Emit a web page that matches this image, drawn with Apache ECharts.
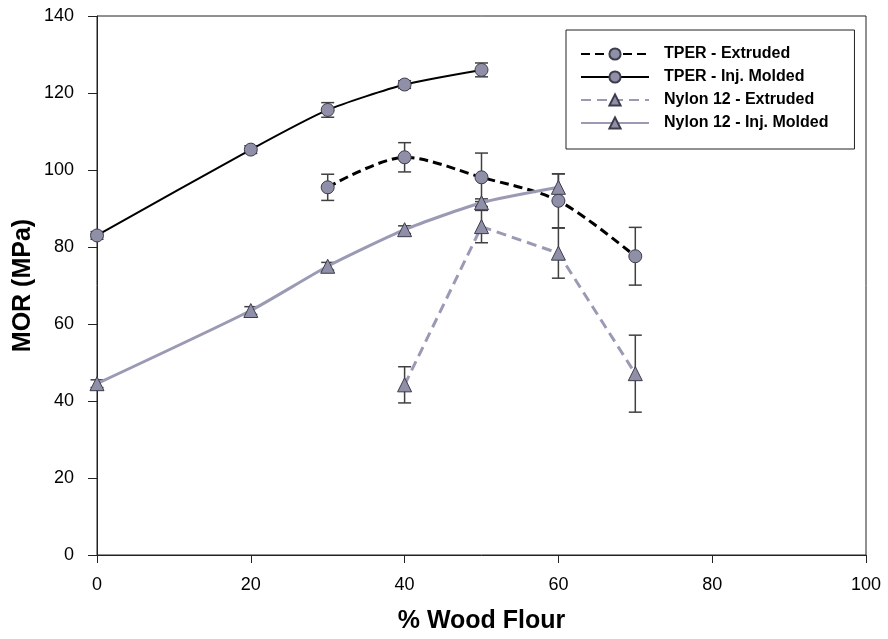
<!DOCTYPE html>
<html>
<head>
<meta charset="utf-8">
<script src="https://cdn.jsdelivr.net/npm/echarts@6/dist/echarts.min.js"></script>
<style>
  html, body { margin: 0; padding: 0; background: #fff; }
  #chart { width: 888px; height: 639px; }
</style>
</head>
<body>
<div id="chart"></div>
<script>
// values
const tperExtX = [30, 40, 50, 60, 70]
const tperExtY = [95.5, 103.3, 98.1, 92, 77.6]
const tperExtErr = [3.4, 3.8, 6.3, 7, 7.5]

const tperInjX = [0, 20, 30, 40, 50]
const tperInjY = [83, 105.3, 115.6, 122.2, 126]
const tperInjErr = [1, 1, 1.9, 1, 1.8]

const nylonExtX = [40, 50, 60, 70]
const nylonExtY = [44.2, 85.3, 78.4, 47.1]
const nylonExtErr = [4.7, 4.2, 6.5, 10]

const nylonInjX = [0, 20, 30, 40, 50, 60]
const nylonInjY = [44.5, 63.5, 75, 84.5, 91.5, 95.5]
const nylonInjErr = [1, 1, 1, 1, 1, 3.5]

const markFill = '#8f90a8'
const markLine = '#3c3c4c'
const nylonColor = '#9a9ab4'

function pts(xs, ys) {
  return xs.map((x, i) => [x, ys[i]])
}
function bars(xs, ys, es) {
  return xs.map((x, i) => [x, ys[i] - es[i], ys[i] + es[i]])
}

function errorSeries(data) {
  return {
    type: 'custom',
    z: 2,
    silent: true,
    data: data,
    renderItem(params, api) {
      const lo = api.coord([api.value(0), api.value(1)])
      const hi = api.coord([api.value(0), api.value(2)])
      const w = 6.5
      const style = { stroke: '#404040', lineWidth: 1.5 }
      return {
        type: 'group',
        children: [
          { type: 'line', shape: { x1: lo[0], y1: lo[1], x2: hi[0], y2: hi[1] }, style },
          { type: 'line', shape: { x1: lo[0] - w, y1: lo[1], x2: lo[0] + w, y2: lo[1] }, style },
          { type: 'line', shape: { x1: hi[0] - w, y1: hi[1], x2: hi[0] + w, y2: hi[1] }, style }
        ]
      }
    }
  }
}

const chart = echarts.init(document.getElementById('chart'))

chart.setOption({
  animation: false,
  textStyle: { fontFamily: 'Liberation Sans, Arial, sans-serif' },
  grid: {
    left: 97, right: 22, top: 16, bottom: 84,
    show: true, borderColor: '#222', borderWidth: 1
  },
  legend: {
    data: ['TPER - Extruded', 'TPER - Inj. Molded', 'Nylon 12 - Extruded', 'Nylon 12 - Inj. Molded'],
    orient: 'vertical',
    left: 566,
    top: 30,
    padding: [16, 26, 18, 14],
    itemGap: 7,
    itemWidth: 68,
    itemHeight: 14,
    borderColor: '#222',
    borderWidth: 1,
    backgroundColor: '#fff',
    textStyle: { fontSize: 16, fontWeight: 'bold', color: '#000', padding: [0, 0, 0, 10] }
  },
  xAxis: {
    type: 'value',
    min: 0,
    max: 100,
    interval: 20,
    name: '% Wood Flour',
    nameLocation: 'middle',
    nameGap: 54,
    nameMoveOverlap: false,
    nameTextStyle: { fontSize: 25, fontWeight: 'bold', color: '#000' },
    splitLine: { show: false },
    axisLine: { lineStyle: { color: '#222' } },
    axisTick: { length: 8, lineStyle: { color: '#222' } },
    axisLabel: { fontSize: 18, color: '#000', margin: 21 }
  },
  yAxis: {
    type: 'value',
    min: 0,
    max: 140,
    interval: 20,
    name: 'MOR (MPa)',
    nameLocation: 'middle',
    nameGap: 61,
    nameMoveOverlap: false,
    nameTextStyle: { fontSize: 25, fontWeight: 'bold', color: '#000' },
    splitLine: { show: false },
    axisLine: { show: true, lineStyle: { color: '#222' } },
    axisTick: { show: true, length: 9, lineStyle: { color: '#222' } },
    axisLabel: { fontSize: 18, color: '#000', margin: 23 }
  },
  series: [
    errorSeries(bars(tperExtX, tperExtY, tperExtErr)),
    errorSeries(bars(tperInjX, tperInjY, tperInjErr)),
    errorSeries(bars(nylonExtX, nylonExtY, nylonExtErr)),
    errorSeries(bars(nylonInjX, nylonInjY, nylonInjErr)),
    {
      name: 'TPER - Extruded',
      type: 'line',
      z: 3,
      smooth: 0.3,
      data: pts(tperExtX, tperExtY),
      symbol: 'circle',
      symbolSize: 13,
      lineStyle: { color: '#000', width: 3, type: [9, 5] },
      itemStyle: { color: markFill, borderColor: markLine, borderWidth: 1 }
    },
    {
      name: 'TPER - Inj. Molded',
      type: 'line',
      z: 3,
      smooth: 0.2,
      data: pts(tperInjX, tperInjY),
      symbol: 'circle',
      symbolSize: 13,
      lineStyle: { color: '#000', width: 2 },
      itemStyle: { color: markFill, borderColor: markLine, borderWidth: 1 }
    },
    {
      name: 'Nylon 12 - Extruded',
      type: 'line',
      z: 3,
      data: pts(nylonExtX, nylonExtY),
      symbol: 'triangle',
      symbolSize: 14,
      lineStyle: { color: nylonColor, width: 3, type: [10, 6] },
      itemStyle: { color: markFill, borderColor: markLine, borderWidth: 1 }
    },
    {
      name: 'Nylon 12 - Inj. Molded',
      type: 'line',
      z: 3,
      smooth: 0.2,
      data: pts(nylonInjX, nylonInjY),
      symbol: 'triangle',
      symbolSize: 14,
      lineStyle: { color: nylonColor, width: 3 },
      itemStyle: { color: markFill, borderColor: markLine, borderWidth: 1 }
    }
  ]
})
</script>
</body>
</html>
